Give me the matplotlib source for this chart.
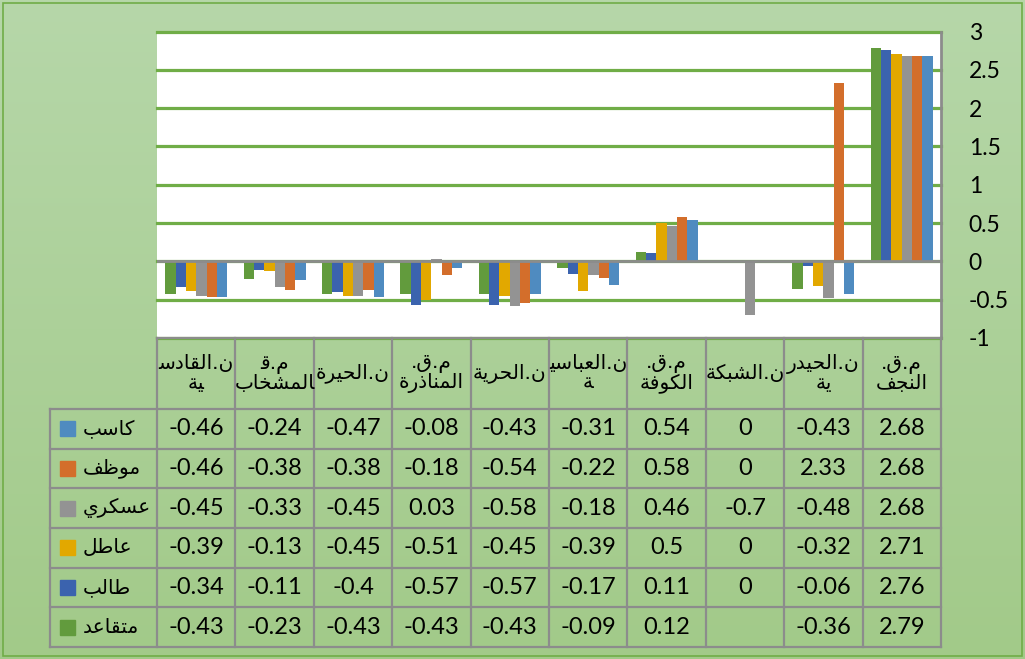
import numpy as np
import matplotlib.pyplot as plt
from matplotlib.patches import Rectangle

W, H = 1025, 659

# Categories as they appear left to right (the sheet is right-to-left)
categories = ["ن.القادس\nية", "م.ق\nالمشخاب", "ن.الحيرة", "م.ق.\nالمناذرة", "ن.الحرية",
              "ن.العباسي\nة", "م.ق.\nالكوفة", "ن.الشبكة", "ن.الحيدر\nية", "م.ق.\nالنجف"]

# Series in the order of the data table rows (top first)
series_names = ["كاسب", "موظف", "عسكري", "عاطل", "طالب", "متقاعد"]
kaseb = [-0.46, -0.24, -0.47, -0.08, -0.43, -0.31, 0.54, 0, -0.43, 2.68]
mowazaf = [-0.46, -0.38, -0.38, -0.18, -0.54, -0.22, 0.58, 0, 2.33, 2.68]
askari = [-0.45, -0.33, -0.45, 0.03, -0.58, -0.18, 0.46, -0.7, -0.48, 2.68]
atel = [-0.39, -0.13, -0.45, -0.51, -0.45, -0.39, 0.5, 0, -0.32, 2.71]
taleb = [-0.34, -0.11, -0.4, -0.57, -0.57, -0.17, 0.11, 0, -0.06, 2.76]
motaqaed = [-0.43, -0.23, -0.43, -0.43, -0.43, -0.09, 0.12, None, -0.36, 2.79]
series_values = [kaseb, mowazaf, askari, atel, taleb, motaqaed]
series_colors = ["#4F8BC0", "#D36E2B", "#939393", "#E2A800", "#3B63AE", "#629B3D"]

y_ticks = [-1, -0.5, 0, 0.5, 1, 1.5, 2, 2.5, 3]

# --- minimal Arabic shaping (matplotlib draws glyphs left to right, unjoined) ---
DUAL = {"ب": 0xFE8F, "ت": 0xFE95, "ج": 0xFE9D, "ح": 0xFEA1, "خ": 0xFEA5, "س": 0xFEB1,
        "ش": 0xFEB5, "ط": 0xFEC1, "ظ": 0xFEC5, "ع": 0xFEC9, "ف": 0xFED1, "ق": 0xFED5,
        "ك": 0xFED9, "ل": 0xFEDD, "م": 0xFEE1, "ن": 0xFEE5, "ي": 0xFEF1}
RIGHT = {"ا": 0xFE8D, "ة": 0xFE93, "د": 0xFEA9, "ذ": 0xFEAB, "ر": 0xFEAD, "و": 0xFEED}


def shape(text):
    chars = list(text)
    out = chars[:]
    for i, c in enumerate(chars):
        if c not in DUAL and c not in RIGHT:
            continue
        base = DUAL.get(c, RIGHT.get(c))
        # neighbours, ignoring the line breaks (word was wrapped mid-way)
        p = i - 1
        while p >= 0 and chars[p] == "\n":
            p -= 1
        n = i + 1
        while n < len(chars) and chars[n] == "\n":
            n += 1
        prev_joins = p >= 0 and chars[p] in DUAL
        next_joins = c in DUAL and n < len(chars) and (chars[n] in DUAL or chars[n] in RIGHT)
        form = {(False, False): 0, (True, False): 1, (False, True): 2, (True, True): 3}[(prev_joins, next_joins)]
        out[i] = chr(base + form)
    return "\n".join(line[::-1] for line in "".join(out).split("\n"))


num_font = ["Lato", "DejaVu Sans"]
ar_font = "DejaVu Sans"
grid_green = "#70AD47"
line_gray = "#8C8C8C"

fig = plt.figure(figsize=(W / 100, H / 100), dpi=100)

# Background gradient of the chart area
bg = fig.add_axes([0, 0, 1, 1], zorder=-10)
grad = np.linspace(0, 1, 256).reshape(-1, 1)
top_c = np.array([0xB6, 0xD7, 0xA9]) / 255
bot_c = np.array([0xA2, 0xCA, 0x89]) / 255
bg.imshow(top_c + grad[..., None] * (bot_c - top_c), aspect="auto", extent=[0, 1, 0, 1])
bg.add_patch(Rectangle((3 / W, 3 / H), 1019 / W, 653 / H, fill=False, edgecolor=grid_green, lw=1.2))
bg.set_xlim(0, 1)
bg.set_ylim(0, 1)
bg.axis("off")

# --- Bar chart ---
ax = fig.add_axes([157 / W, 1 - 338 / H, 784 / W, (338 - 31.5) / H])
x = np.arange(len(categories))
bw = 0.132
draw_order = list(range(len(series_names)))[::-1]   # متقاعد is leftmost in each group
for k, j in enumerate(draw_order):
    vals = np.array([np.nan if v is None else v for v in series_values[j]], dtype=float)
    ax.bar(x + (k - 2.5) * bw, vals, width=bw, color=series_colors[j], zorder=3)

ax.set_xlim(-0.5, len(categories) - 0.5)
ax.set_ylim(-1, 3)
ax.set_yticks(y_ticks)
ax.set_yticklabels([f"{t:g}" for t in y_ticks], family=num_font, fontsize=16.5)
ax.yaxis.tick_right()
ax.tick_params(axis="y", length=0, pad=20)
ax.set_xticks([])
ax.grid(axis="y", color=grid_green, lw=2.3, zorder=1)
for gl in ax.get_ygridlines():
    gl.set_clip_on(False)
ax.axhline(0, color=line_gray, lw=2, zorder=4)
for side in ["top", "bottom", "left"]:
    ax.spines[side].set_visible(False)
ax.spines["right"].set_color(line_gray)
ax.spines["right"].set_linewidth(2)

# --- Data table under the chart ---
row_h_px = (647 - 409) / 6
col_w_px = 784 / len(categories)
legend_w = 107 / col_w_px
header_h = 71 / row_h_px
n_rows = len(series_names)

tax = fig.add_axes([50 / W, 1 - 647 / H, (941 - 50) / W, (647 - 338) / H])
tax.set_xlim(-0.5 - legend_w, len(categories) - 0.5)
tax.set_ylim(0, n_rows + header_h)
tax.axis("off")

lw_t = 1.6
for r in range(n_rows + 1):
    tax.plot([-0.5 - legend_w, len(categories) - 0.5], [r, r], color=line_gray, lw=lw_t, clip_on=False)
tax.plot([-0.5, len(categories) - 0.5], [n_rows + header_h] * 2, color=line_gray, lw=lw_t, clip_on=False)
for c in range(len(categories) + 1):
    tax.plot([c - 0.5, c - 0.5], [0, n_rows + header_h], color=line_gray, lw=lw_t, clip_on=False)
tax.plot([-0.5 - legend_w] * 2, [0, n_rows], color=line_gray, lw=lw_t, clip_on=False)

# Header with category names
for i, cat in enumerate(categories):
    tax.text(i, n_rows + header_h / 2, shape(cat), ha="center", va="center",
             family=ar_font, fontsize=14.5, linespacing=1.0)

# Rows: legend key + values
sq_x = (60 - 157) / col_w_px - 0.5
sq_w = 15 / col_w_px
sq_h = 15 / row_h_px
txt_x = (83 - 157) / col_w_px - 0.5
for j, name in enumerate(series_names):
    yc = n_rows - j - 0.5
    tax.add_patch(Rectangle((sq_x, yc - sq_h / 2), sq_w, sq_h, color=series_colors[j]))
    tax.text(txt_x, yc, shape(name), ha="left", va="center", family=ar_font, fontsize=14.5)
    for i, v in enumerate(series_values[j]):
        label = "" if v is None else f"{v:g}"
        tax.text(i, yc, label, ha="center", va="center", family=num_font, fontsize=17)

plt.savefig("out.png", dpi=100)
